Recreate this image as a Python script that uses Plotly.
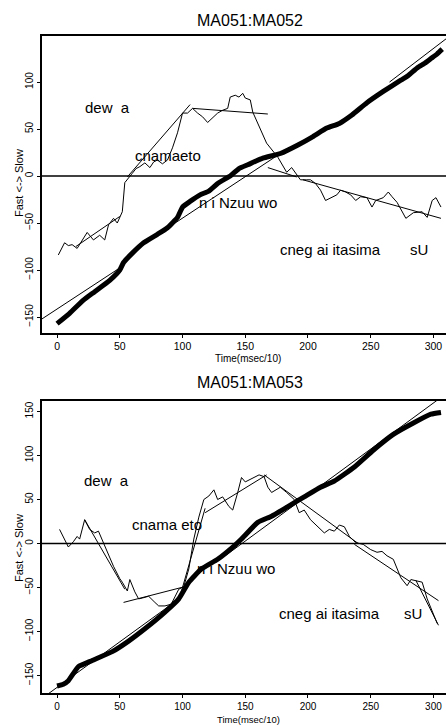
import plotly.graph_objects as go

# ---------------- data: panel 1 (MA051:MA052) ----------------
p1_cum_x = [0, 10, 21, 30, 42, 50, 53, 60, 69, 80, 88, 96, 100, 106, 114, 121, 128, 134, 138, 145, 152,
            164, 178, 192, 204, 215, 225, 235, 247, 260, 274, 280, 287, 293, 298, 303, 307]
p1_cum_y = [-157, -146, -132, -123, -111, -100, -92, -82, -71, -62, -55, -44, -33, -27, -20, -16, -8, -3,
            0, 8, 12, 19, 24, 33, 42, 51, 56, 65, 78, 90, 102, 107, 115, 120, 125, 130, 135]

p1_diff_x = [1, 6, 9, 12, 16, 20, 24, 29, 34, 38, 41, 45, 48, 52, 54, 60, 63, 66, 70, 74, 77, 80, 84, 88,
             92, 96, 100, 104, 108, 112, 116, 120, 124, 128, 132, 136, 138, 142, 145, 148, 150, 154, 156,
             167, 176, 183, 187, 190, 194, 199, 202, 206, 210, 214, 218, 223, 226, 230, 234, 238, 242,
             247, 251, 254, 260, 264, 267, 271, 278, 284, 291, 295, 299, 302, 306]
p1_diff_y = [-84, -71, -74, -73, -77, -68, -60, -68, -63, -68, -52, -45, -50, -38, -7, 3, 8, 10, 14, 9, 15,
             17, 13, 17, 30, 46, 67, 67, 72, 67, 63, 57, 62, 67, 70, 72, 84, 86, 84, 88, 83, 81, 68,
             35, 20, 4, 9, 3, -4, -4, -4, -8, -15, -26, -23, -20, -15, -17, -20, -26, -22,
             -23, -33, -26, -23, -17, -22, -28, -45, -39, -38, -44, -26, -23, -33]

# fitted segments: (x0, x1, y0, y1)
p1_fits_cum = [(-12, 52, -152, -96), (85, 178, -58, 24), (265, 312, 100, 148)]
p1_fits_diff = [(15, 50, -75, -43), (56, 106, -1, 76), (108, 168, 72, 66), (168, 191, 9, -1),
                (196, 306, -4, -45)]

# ---------------- data: panel 2 (MA051:MA053) ----------------
p2_cum_x = [0, 5, 9, 17, 28, 44, 57, 70, 86, 97, 105, 115, 128, 141, 147, 160, 171, 184, 197, 210,
            221, 237, 252, 268, 284, 298, 306]
p2_cum_y = [-162, -160, -156, -140, -133, -123, -111, -97, -78, -63, -44, -29, -18, -3, 5, 24, 31, 42,
            53, 64, 71, 87, 106, 124, 137, 147, 149]

p2_diff_x = [2, 6, 9, 13, 16, 18, 22, 26, 30, 33, 37, 45, 50, 52, 56, 58, 62, 65, 68, 73, 78, 81, 86,
             91, 97, 101, 105, 109, 113, 117, 121, 125, 128, 132, 137, 140, 144, 147, 150, 153, 157, 161,
             165, 168, 171, 175, 178, 183, 189, 193, 197, 202, 208, 213, 217, 221, 225, 229, 233, 238,
             244, 250, 255, 259, 263, 268, 274, 279, 282, 287, 291, 295, 300, 303]
p2_diff_y = [16, 5, -4, 2, 8, 5, 27, 16, 12, 14, 1, -26, -40, -44, -54, -41, -55, -63, -62, -60, -67, -71,
             -71, -69, -52, -49, -29, 5, 30, 50, 54, 61, 50, 53, 42, 38, 58, 75, 70, 72, 75, 78,
             76, 64, 58, 61, 64, 58, 50, 35, 38, 27, 19, 12, 16, 14, 21, 19, 8, 1,
             -1, -7, -10, -9, -14, -18, -39, -48, -41, -43, -44, -63, -82, -91]

p2_fits_cum = [(-10, 100, -174, -60), (135, 305, -13, 165)]
p2_fits_diff = [(22, 54, 27, -52), (53, 102, -67, -49), (98, 118, -60, 40), (118, 167, 35, 78),
                (165, 240, 78, 0), (237, 304, -1, -65), (286, 304, -42, -93)]

titles = ["MA051:MA052", "MA051:MA053"]
x_ticks = [0, 50, 100, 150, 200, 250, 300]
y_ticks = [-150, -100, -50, 0, 50, 100, 150]
x_title = "Time(msec/10)"
y_title = "Fast <-> Slow"
labels = ["dew  a", "cnamaeto", "n i Nzuu wo", "cneg ai itasima", "sU"]
labels2 = ["dew  a", "cnama eto", "n i Nzuu wo", "cneg ai itasima", "sU"]

W, H = 446, 726
FONT = "Liberation Sans, Arial, Helvetica, sans-serif"

fig = go.Figure()


def add_panel(xr, yr, cum_x, cum_y, dx, dy, fits):
    fig.add_trace(go.Scatter(x=dx, y=dy, mode="lines", line=dict(color="black", width=1),
                             xaxis=xr, yaxis=yr, showlegend=False, hoverinfo="skip"))
    fig.add_trace(go.Scatter(x=cum_x, y=cum_y, mode="lines",
                             line=dict(color="black", width=5, shape="spline", smoothing=0.4),
                             xaxis=xr, yaxis=yr, showlegend=False, hoverinfo="skip"))
    for (x0, x1, y0, y1) in fits:
        fig.add_trace(go.Scatter(x=[x0, x1], y=[y0, y1], mode="lines",
                                 line=dict(color="black", width=1),
                                 xaxis=xr, yaxis=yr, showlegend=False, hoverinfo="skip"))
    fig.add_trace(go.Scatter(x=[-12, 312], y=[0, 0], mode="lines", line=dict(color="black", width=1.6),
                             xaxis=xr, yaxis=yr, showlegend=False, hoverinfo="skip"))


add_panel("x", "y", p1_cum_x, p1_cum_y, p1_diff_x, p1_diff_y, p1_fits_cum + p1_fits_diff)
add_panel("x2", "y2", p2_cum_x, p2_cum_y, p2_diff_x, p2_diff_y, p2_fits_cum + p2_fits_diff)


def px2paper(px, py):
    return px / W, 1 - py / H


xdom = [42 / W, 1.0]
dom1 = [1 - 333 / H, 1 - 36 / H]
dom2 = [1 - 693 / H, 1 - 401 / H]

axis_common = dict(showgrid=False, zeroline=False, showline=True, linecolor="black", linewidth=1.5,
                   ticks="outside", ticklen=3, tickcolor="black", tickwidth=1, automargin=False)

fig.update_layout(
    width=W, height=H, margin=dict(l=0, r=0, t=0, b=0),
    paper_bgcolor="white", plot_bgcolor="white",
    font=dict(family=FONT, color="black"),
    xaxis=dict(domain=xdom, range=[-12, 310], anchor="y", tickvals=x_ticks, mirror=True,
               tickfont=dict(size=10.5), **axis_common),
    yaxis=dict(domain=dom1, range=[-167, 149], anchor="x", tickvals=y_ticks, tickangle=-90,
               tickfont=dict(size=10), **axis_common),
    xaxis2=dict(domain=xdom, range=[-12, 310], anchor="y2", tickvals=x_ticks, mirror=True,
                tickfont=dict(size=10), **axis_common),
    yaxis2=dict(domain=dom2, range=[-170, 162], anchor="x2", tickvals=y_ticks, tickangle=-90,
                tickfont=dict(size=10), **axis_common),
)

ann = []
for t, py in zip(titles, [20, 382]):
    x, y = px2paper(250, py)
    ann.append(dict(text=t, x=x, y=y, xref="paper", yref="paper", showarrow=False,
                    font=dict(size=16), xanchor="center", yanchor="middle"))

# axis titles
for py, anch, fs in ((359, "middle", 10), (726, "bottom", 9.5)):
    x, y = px2paper(248, py)
    ann.append(dict(text=x_title, x=x, y=y, xref="paper", yref="paper", showarrow=False,
                    font=dict(size=fs), xanchor="center", yanchor=anch, borderpad=0))
for py in (183, 548):
    x, y = px2paper(19, py)
    ann.append(dict(text=y_title, x=x, y=y, xref="paper", yref="paper", showarrow=False,
                    textangle=-90, font=dict(size=11), xanchor="center", yanchor="middle"))

pos1 = [(83, 108), (133, 155), (197, 202), (278, 249), (408, 249)]
pos2 = [(82, 480), (130, 524), (195, 568), (277, 613), (402, 613)]
for labs, poss in ((labels, pos1), (labels2, pos2)):
    for t, (px, py) in zip(labs, poss):
        x, y = px2paper(px, py)
        ann.append(dict(text=t, x=x, y=y, xref="paper", yref="paper", showarrow=False,
                        font=dict(size=15), xanchor="left", yanchor="middle"))
fig.update_layout(annotations=ann)

fig.write_html("out.html", config={"displayModeBar": False},
               post_script="document.body.style.margin='0';document.body.style.overflow='hidden';")
